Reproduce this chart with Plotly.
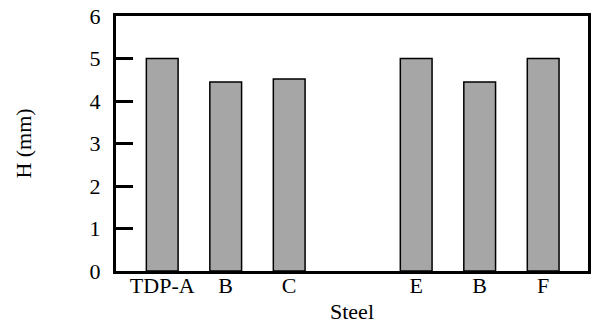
import plotly.graph_objects as go

categories = ["TDP-A", "B", "C", "E", "B", "F"]
positions = [0, 1, 2, 4, 5, 6]
values = [5.0, 4.45, 4.52, 5.0, 4.45, 5.0]
y_ticks = [0, 1, 2, 3, 4, 5, 6]

fig = go.Figure()
fig.add_trace(go.Bar(
    x=positions, y=values, width=0.5,
    marker=dict(color="#a6a6a6", line=dict(color="black", width=1.5)),
))

font_family = "Liberation Serif, Times New Roman, serif"
fig.update_layout(
    width=595, height=332,
    margin=dict(l=116, r=4, t=11, b=61),
    plot_bgcolor="white", paper_bgcolor="white",
    showlegend=False,
    font=dict(family=font_family, color="black", size=22),
    xaxis=dict(
        range=[-0.728, 6.706],
        tickmode="array", tickvals=positions, ticktext=categories,
        ticks="", showgrid=False, zeroline=False,
        showline=True, linecolor="black", linewidth=3, mirror=True,
        tickfont=dict(size=22), ticklabelstandoff=-7,
        title=dict(text="Steel", font=dict(size=22), standoff=7),
    ),
    yaxis=dict(
        range=[0, 6],
        tickmode="array", tickvals=y_ticks,
        ticks="inside", ticklen=17, tickwidth=3, tickcolor="black",
        showgrid=False, zeroline=False,
        showline=True, linecolor="black", linewidth=3, mirror=True,
        tickfont=dict(size=22), ticklabeloverflow="allow", ticklabelstandoff=8,
        title=dict(text="H (mm)", font=dict(size=22), standoff=52),
    ),
)

fig.write_html("out.html")
